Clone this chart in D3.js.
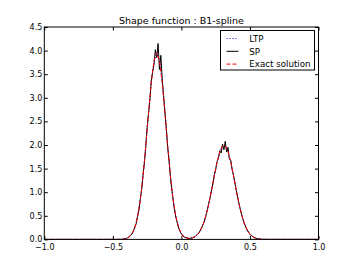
<!DOCTYPE html>
<html>
<head>
<meta charset="utf-8">
<script src="https://cdn.jsdelivr.net/npm/d3@7"></script>
<style>
  body { margin: 0; background: #fff; }
  text { font-family: "DejaVu Sans", sans-serif; }
</style>
</head>
<body>
<div id="chart"></div>
<script>
var width = 354,
    height = 266;

var title = "Shape function : B1-spline";
var xTicks = [-1.0, -0.5, 0.0, 0.5, 1.0];
var yTicks = [0.0, 0.5, 1.0, 1.5, 2.0, 2.5, 3.0, 3.5, 4.0, 4.5];
var legendNames = ["LTP", "SP", "Exact solution"];

// exact solution, sampled every 0.02 where it is non zero
var exactX = [-1.0, -0.46, -0.44, -0.42, -0.40, -0.38, -0.36, -0.34, -0.32, -0.30, -0.28, -0.26, -0.24, -0.22, -0.20,
  -0.18, -0.16, -0.14, -0.12, -0.10, -0.08, -0.06, -0.04, -0.02, 0.00, 0.02, 0.04, 0.06, 0.08, 0.10,
  0.12, 0.14, 0.16, 0.18, 0.20, 0.22, 0.24, 0.26, 0.28, 0.30, 0.32, 0.34, 0.36, 0.38, 0.40,
  0.42, 0.44, 0.46, 0.48, 0.50, 0.52, 0.54, 0.56, 0.58, 0.60, 0.62, 0.64, 1.0];
var exactY = [0, 0, 0.003, 0.008, 0.021, 0.052, 0.119, 0.248, 0.474, 0.832, 1.340, 1.977, 2.677, 3.322, 3.783,
  3.950, 3.783, 3.322, 2.677, 1.977, 1.340, 0.832, 0.474, 0.248, 0.120, 0.054, 0.027, 0.021, 0.031, 0.059,
  0.111, 0.198, 0.330, 0.516, 0.759, 1.045, 1.351, 1.637, 1.861, 1.984, 1.984, 1.861, 1.637, 1.351, 1.045,
  0.759, 0.516, 0.330, 0.198, 0.111, 0.058, 0.029, 0.013, 0.006, 0.002, 0.001, 0, 0];

// LTP, close to exact
var ltpX = exactX;
var ltpY = [0, 0, 0.004, 0.009, 0.020, 0.055, 0.115, 0.252, 0.470, 0.840, 1.330, 1.990, 2.660, 3.340, 3.770,
  3.960, 3.770, 3.330, 2.690, 1.960, 1.350, 0.825, 0.480, 0.245, 0.122, 0.052, 0.028, 0.020, 0.032, 0.057,
  0.113, 0.196, 0.334, 0.512, 0.764, 1.040, 1.356, 1.630, 1.868, 1.978, 1.990, 1.855, 1.642, 1.345, 1.050,
  0.754, 0.520, 0.327, 0.200, 0.109, 0.060, 0.028, 0.014, 0.005, 0.002, 0.001, 0, 0];

// SP (noisy), sampled every 0.01
var spX = [-1.0, -0.43, -0.42, -0.41, -0.40, -0.39, -0.38, -0.37, -0.36, -0.35, -0.34, -0.33, -0.32, -0.31, -0.30,
  -0.29, -0.28, -0.27, -0.26, -0.25, -0.24, -0.23, -0.22, -0.21, -0.20, -0.19, -0.18, -0.17, -0.16, -0.15,
  -0.14, -0.13, -0.12, -0.11, -0.10, -0.09, -0.08, -0.07, -0.06, -0.05, -0.04, -0.03, -0.02, -0.01, 0.00,
  0.01, 0.02, 0.03, 0.04, 0.05, 0.06, 0.07, 0.08, 0.09, 0.10, 0.11, 0.12, 0.13, 0.14, 0.15,
  0.16, 0.17, 0.18, 0.19, 0.20, 0.21, 0.22, 0.23, 0.24, 0.25, 0.26, 0.27, 0.28, 0.29, 0.30,
  0.31, 0.32, 0.33, 0.34, 0.35, 0.36, 0.37, 0.38, 0.39, 0.40, 0.41, 0.42, 0.43, 0.44, 0.45,
  0.46, 0.47, 0.48, 0.49, 0.50, 0.51, 0.52, 0.53, 0.54, 0.55, 0.56, 0.57, 0.58, 1.0];
var spY = [0, 0, 0.01, 0.02, 0.02, 0.04, 0.05, 0.09, 0.12, 0.18, 0.26, 0.33, 0.49, 0.62, 0.85,
  1.05, 1.36, 1.62, 1.96, 2.38, 2.65, 2.95, 3.35, 3.55, 3.70, 4.02, 3.85, 4.15, 3.60, 3.90,
  3.40, 3.05, 2.70, 2.35, 1.95, 1.68, 1.32, 1.05, 0.84, 0.62, 0.47, 0.35, 0.24, 0.17, 0.12,
  0.08, 0.05, 0.04, 0.03, 0.02, 0.02, 0.03, 0.03, 0.05, 0.06, 0.09, 0.11, 0.15, 0.20, 0.26,
  0.33, 0.41, 0.52, 0.63, 0.77, 0.89, 1.05, 1.18, 1.36, 1.48, 1.65, 1.72, 1.88, 1.83, 2.02,
  1.90, 2.08, 1.85, 1.95, 1.70, 1.68, 1.48, 1.36, 1.20, 1.04, 0.90, 0.76, 0.63, 0.52, 0.41,
  0.33, 0.25, 0.20, 0.15, 0.11, 0.08, 0.06, 0.04, 0.03, 0.02, 0.01, 0.01, 0, 0];

var margin = {top: 27, right: 35.5, bottom: 26.6, left: 44.3},
    w = width - margin.left - margin.right,
    h = height - margin.top - margin.bottom;

var svg = d3.select("#chart").append("svg")
    .attr("width", width)
    .attr("height", height);

var g = svg.append("g")
    .attr("transform", "translate(" + margin.left + "," + margin.top + ")");

var x = d3.scaleLinear().domain([-1, 1]).range([0, w]);
var y = d3.scaleLinear().domain([0, 4.5]).range([h, 0]);

var fmt = d3.format(".1f");
function minusFmt(d) { return fmt(d).replace("-", "\u2212"); }

var line = d3.line()
    .x(function(d) { return x(d[0]); })
    .y(function(d) { return y(d[1]); });

function zip(xs, ys) { return xs.map(function(v, i) { return [v, ys[i]]; }); }

g.append("clipPath").attr("id", "clip")
    .append("rect").attr("width", w).attr("height", h);

var plot = g.append("g").attr("clip-path", "url(#clip)");

plot.append("path")
    .attr("d", line(zip(ltpX, ltpY)))
    .attr("fill", "none")
    .attr("stroke", "#0000ff")
    .attr("stroke-width", 1)
    .attr("stroke-dasharray", "1,2");

plot.append("path")
    .attr("d", line(zip(spX, spY)))
    .attr("fill", "none")
    .attr("stroke", "#000")
    .attr("stroke-width", 1);

plot.append("path")
    .attr("d", line(zip(exactX, exactY)))
    .attr("fill", "none")
    .attr("stroke", "#ff0000")
    .attr("stroke-width", 1)
    .attr("stroke-dasharray", "4,2");

// axes, ticks pointing inward on all four sides
var tickLen = 3.5;
g.append("g")
    .attr("transform", "translate(0," + h + ")")
    .call(d3.axisBottom(x).tickValues(xTicks).tickSizeInner(-tickLen).tickSizeOuter(0).tickPadding(5).tickFormat(minusFmt))
    .call(function(a) { a.select(".domain").remove(); });
g.append("g")
    .call(d3.axisTop(x).tickValues(xTicks).tickSizeInner(-tickLen).tickSizeOuter(0).tickFormat(""))
    .call(function(a) { a.select(".domain").remove(); });
g.append("g")
    .call(d3.axisLeft(y).tickValues(yTicks).tickSizeInner(-tickLen).tickSizeOuter(0).tickPadding(2).tickFormat(minusFmt))
    .call(function(a) { a.select(".domain").remove(); });
g.append("g")
    .attr("transform", "translate(" + w + ",0)")
    .call(d3.axisRight(y).tickValues(yTicks).tickSizeInner(-tickLen).tickSizeOuter(0).tickFormat(""))
    .call(function(a) { a.select(".domain").remove(); });

g.selectAll(".tick text")
    .attr("font-family", "DejaVu Sans, sans-serif")
    .attr("font-size", 8)
    .attr("fill", "#000");
g.selectAll(".tick line").attr("stroke", "#000");

g.append("rect")
    .attr("width", w).attr("height", h)
    .attr("fill", "none").attr("stroke", "#000").attr("stroke-width", 1);

svg.append("text")
    .attr("x", margin.left + w / 2)
    .attr("y", 23.5)
    .attr("text-anchor", "middle")
    .attr("font-size", 9.5)
    .text(title);

// legend
var lg = svg.append("g").attr("transform", "translate(220.5,30.5)");
lg.append("rect")
    .attr("width", 94).attr("height", 39.5)
    .attr("fill", "#fff").attr("stroke", "#000").attr("stroke-width", 1);
var legendStyles = [
  {color: "#0000ff", dash: "1,2"},
  {color: "#000", dash: null},
  {color: "#ff0000", dash: "4,2"}
];
legendNames.forEach(function(name, i) {
  var yy = 8 + i * 12.8;
  lg.append("line")
    .attr("x1", 6).attr("x2", 18).attr("y1", yy).attr("y2", yy)
    .attr("stroke", legendStyles[i].color)
    .attr("stroke-dasharray", legendStyles[i].dash);
  lg.append("text")
    .attr("x", 28.8).attr("y", yy + 3.2)
    .attr("font-size", 8.7)
    .text(name);
});
</script>
</body>
</html>
